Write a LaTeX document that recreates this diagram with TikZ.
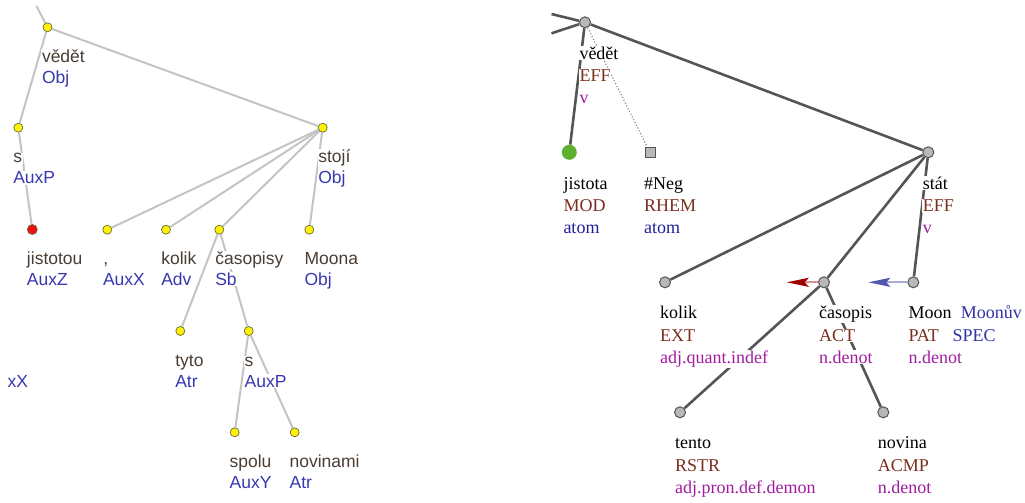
\documentclass[tikz,border=0pt]{standalone}
\usepackage{fontspec}
\usetikzlibrary{arrows.meta,backgrounds}
\newfontfamily\lsansfam{Liberation Sans}
\newfontfamily\rseriffam{Liberation Serif}
\newcommand\lsans{\lsansfam\fontsize{17.5}{21}\selectfont}
\newcommand\rserif{\rseriffam\fontsize{18}{22}\selectfont}
\definecolor{lgray}{HTML}{C4C4C4}
\definecolor{dgray}{HTML}{555555}
\definecolor{lword}{HTML}{4A3E34}
\definecolor{lfun}{HTML}{3838B0}
\definecolor{rfun}{HTML}{7A2E1E}
\definecolor{rtype}{HTML}{A01CA0}
\definecolor{ratom}{HTML}{20209A}
\definecolor{rspec}{HTML}{3232A8}
\definecolor{ynodeline}{HTML}{6A6A40}
\definecolor{gfill}{HTML}{B8B8B8}
\definecolor{greenn}{HTML}{60B030}
\definecolor{redn}{HTML}{EE1111}
\definecolor{arrred}{HTML}{A00000}
\definecolor{arrredl}{HTML}{D89090}
\definecolor{arrblue}{HTML}{5058B0}
\definecolor{arrbluel}{HTML}{A8AED8}
\tikzset{
  ledge/.style={draw=lgray, line width=2pt},
  redge/.style={draw=dgray, line width=2.6pt},
  ynode/.style={circle, draw=ynodeline, fill=yellow, minimum size=9pt, inner sep=0pt, line width=0.7pt},
  rnode/.style={circle, draw=ynodeline, fill=redn, minimum size=10pt, inner sep=0pt, line width=0.7pt},
  gnode/.style={circle, draw=dgray, fill=gfill, minimum size=11pt, inner sep=0pt, line width=1pt},
  grnode/.style={circle, fill=greenn, minimum size=15pt, inner sep=0pt},
  sqnode/.style={rectangle, draw=dgray, fill=gfill, minimum size=10pt, inner sep=0pt, line width=1pt},
  ltxt/.style={anchor=base west, fill=white, inner sep=0.8pt, font=\lsans},
  rtxt/.style={anchor=base west, fill=white, inner sep=0.8pt, font=\rserif},
}
\begin{document}
\begin{tikzpicture}[x=1pt,y=-1pt]
\useasboundingbox (0,0) rectangle (1025,503);
% ---------------- left tree nodes
\node[ynode] (vA) at (47.5,27.3) {};
\node[ynode] (sA) at (18.3,127.7) {};
\node[ynode] (stojiA) at (322.7,127.7) {};
\node[rnode] (jistotouA) at (32.3,229.5) {};
\node[ynode] (commaA) at (107.3,229.7) {};
\node[ynode] (kolikA) at (166,229.7) {};
\node[ynode] (casopisyA) at (219.3,229.7) {};
\node[ynode] (moonaA) at (309.3,229.7) {};
\node[ynode] (tytoA) at (180.3,331) {};
\node[ynode] (s2A) at (248.7,331) {};
\node[ynode] (spoluA) at (234.7,432.3) {};
\node[ynode] (novinamiA) at (294.7,432.3) {};
\coordinate (topA) at (36.5,6);
% ---------------- right tree nodes
\node[gnode] (vB) at (585,22.3) {};
\node[grnode] (jistotaB) at (569.3,152.3) {};
\node[sqnode] (negB) at (650,152.3) {};
\node[gnode] (statB) at (928.3,152.3) {};
\node[gnode] (kolikB) at (665,282.3) {};
\node[gnode] (casopisB) at (824,282.3) {};
\node[gnode] (moonB) at (913.3,282.3) {};
\node[gnode] (tentoB) at (680,412.3) {};
\node[gnode] (novinaB) at (883.3,412.3) {};
\coordinate (inB1) at (551.5,14);
\coordinate (inB2) at (551.5,33.3);
\coordinate (redtip) at (786.7,282.3);
\coordinate (bluetip) at (868.3,282.3);
% ---------------- edges (background)
\begin{pgfonlayer}{background}
\draw[ledge] (topA) -- (vA);
\draw[ledge] (vA) -- (sA);
\draw[ledge] (vA) -- (stojiA);
\draw[ledge] (sA) -- (jistotouA);
\draw[ledge] (stojiA) -- (commaA);
\draw[ledge] (stojiA) -- (kolikA);
\draw[ledge] (stojiA) -- (casopisyA);
\draw[ledge] (stojiA) -- (moonaA);
\draw[ledge] (casopisyA) -- (tytoA);
\draw[ledge] (casopisyA) -- (s2A);
\draw[ledge] (s2A) -- (spoluA);
\draw[ledge] (s2A) -- (novinamiA);
\draw[redge] (inB1) -- (vB);
\draw[redge] (inB2) -- (vB);
\draw[redge] (vB) -- (jistotaB);
\draw[redge] (vB) -- (statB);
\draw[draw=gray, line width=1.1pt, dotted] (vB) -- (negB);
\draw[redge] (statB) -- (kolikB);
\draw[redge] (statB) -- (casopisB);
\draw[redge] (statB) -- (moonB);
\draw[redge] (casopisB) -- (tentoB);
\draw[redge] (casopisB) -- (novinaB);
\end{pgfonlayer}
\draw[draw=arrredl, line width=2pt, -{Stealth[length=22pt,width=9pt,inset=4pt,color=arrred]}] (casopisB) -- (redtip);
\draw[draw=arrbluel, line width=2pt, -{Stealth[length=22pt,width=9pt,inset=4pt,color=arrblue]}] (moonB) -- (bluetip);
% ---------------- left labels
\node[ltxt, text=lword] (tA1) at (41,62.3) {vědět};
\node[ltxt, text=lfun] (fA1) at (41,83.3) {Obj};
\node[ltxt, text=lword] (tA2) at (12.3,162.7) {s};
\node[ltxt, text=lfun] (fA2) at (12.3,183.7) {AuxP};
\node[ltxt, text=lword] (tA3) at (317.3,162.7) {stojí};
\node[ltxt, text=lfun] (fA3) at (317.3,183.7) {Obj};
\node[ltxt, text=lword] (tA4) at (26,264.5) {jistotou};
\node[ltxt, text=lfun] (fA4) at (26,285.5) {AuxZ};
\node[ltxt, text=lword] (tA5) at (102.3,264.5) {,};
\node[ltxt, text=lfun] (fA5) at (102,285.5) {AuxX};
\node[ltxt, text=lword] (tA6) at (160.3,264.5) {kolik};
\node[ltxt, text=lfun] (fA6) at (160.3,285.5) {Adv};
\node[ltxt, text=lword] (tA7) at (214.3,264.5) {časopisy};
\node[ltxt, text=lfun] (fA7) at (214.3,285.5) {Sb};
\node[ltxt, text=lword] (tA8) at (303.6,264.5) {Moona};
\node[ltxt, text=lfun] (fA8) at (303.6,285.5) {Obj};
\node[ltxt, text=lword] (tA9) at (174.3,366) {tyto};
\node[ltxt, text=lfun] (fA9) at (174.3,387) {Atr};
\node[ltxt, text=lword] (tA10) at (243.6,366) {s};
\node[ltxt, text=lfun] (fA10) at (243.6,387) {AuxP};
\node[ltxt, text=lfun] (fA11) at (6.6,387) {xX};
\node[ltxt, text=lword] (tA12) at (228.6,467.3) {spolu};
\node[ltxt, text=lfun] (fA12) at (228.6,488.3) {AuxY};
\node[ltxt, text=lword] (tA13) at (288.6,467.3) {novinami};
\node[ltxt, text=lfun] (fA13) at (288.6,488.3) {Atr};
% ---------------- right labels
\node[rtxt] (tB1) at (578.5,59.3) {vědět};
\node[rtxt, text=rfun] (fB1) at (578.5,81.8) {EFF};
\node[rtxt, text=rtype] (yB1) at (578.5,103.8) {v};
\node[rtxt] (tB2) at (562.5,189.3) {jistota};
\node[rtxt, text=rfun] (fB2) at (562.5,211.8) {MOD};
\node[rtxt, text=ratom] (yB2) at (562.5,233.8) {atom};
\node[rtxt] (tB3) at (643.2,189.3) {\#Neg};
\node[rtxt, text=rfun] (fB3) at (643.2,211.8) {RHEM};
\node[rtxt, text=ratom] (yB3) at (643.2,233.8) {atom};
\node[rtxt] (tB4) at (921.9,189.3) {stát};
\node[rtxt, text=rfun] (fB4) at (921.9,211.8) {EFF};
\node[rtxt, text=rtype] (yB4) at (921.9,233.8) {v};
\node[rtxt] (tB5) at (659.2,318.8) {kolik};
\node[rtxt, text=rfun] (fB5) at (659.2,341.3) {EXT};
\node[rtxt, text=rtype] (yB5) at (659.2,363.3) {adj.quant.indef};
\node[rtxt] (tB6) at (818.2,318.8) {časopis};
\node[rtxt, text=rfun] (fB6) at (818.2,341.3) {ACT};
\node[rtxt, text=rtype] (yB6) at (818.2,363.3) {n.denot};
\node[rtxt] (tB7) at (907.5,318.8) {Moon};
\node[rtxt, text=rfun] (fB7) at (907.5,341.3) {PAT};
\node[rtxt, text=rtype] (yB7) at (907.5,363.3) {n.denot};
\node[rtxt, text=rspec] (sB1) at (959.9,318.8) {Moonův};
\node[rtxt, text=rspec] (sB2) at (951.5,341.3) {SPEC};
\node[rtxt] (tB8) at (674.2,448.8) {tento};
\node[rtxt, text=rfun] (fB8) at (674.2,471.3) {RSTR};
\node[rtxt, text=rtype] (yB8) at (674.2,493.3) {adj.pron.def.demon};
\node[rtxt] (tB9) at (876.9,448.8) {novina};
\node[rtxt, text=rfun] (fB9) at (876.9,471.3) {ACMP};
\node[rtxt, text=rtype] (yB9) at (876.9,493.3) {n.denot};
\end{tikzpicture}
\end{document}
